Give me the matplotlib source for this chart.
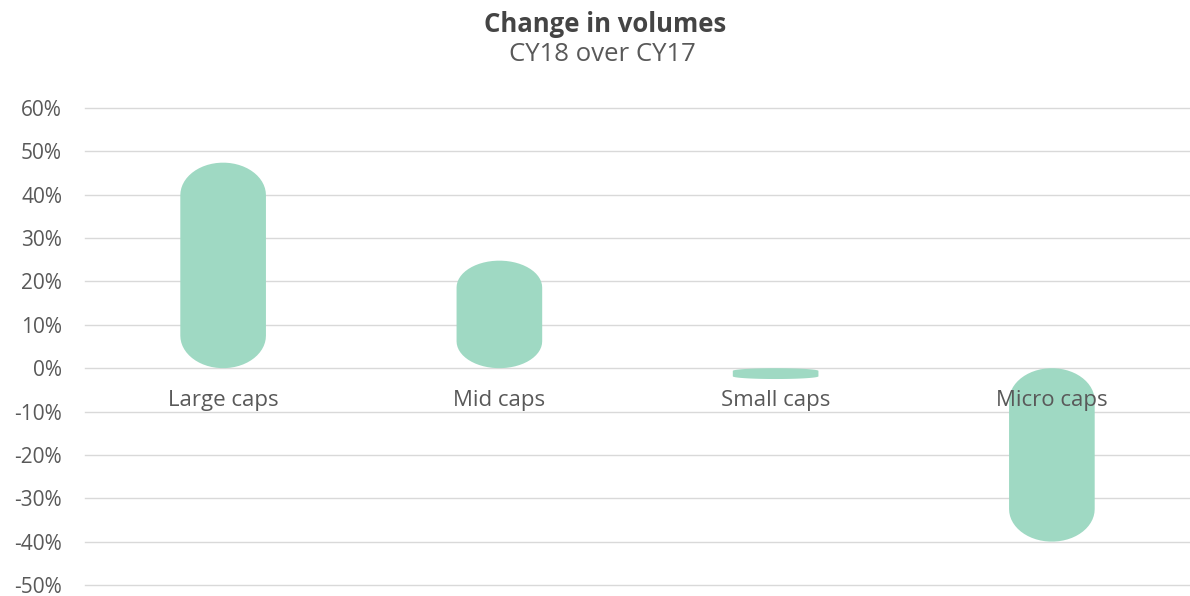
import matplotlib.pyplot as plt
import numpy as np
from matplotlib.patches import Polygon

# Dados
categorias = ['Large caps', 'Mid caps', 'Small caps', 'Micro caps']
variacao = [0.474, 0.248, -0.025, -0.40]

cor_barra = '#9fd9c3'
cor_texto = '#595959'

plt.rcParams['font.family'] = ['Open Sans', 'DejaVu Sans']

fig = plt.figure(figsize=(11.9, 5.96), dpi=100)
ax = fig.add_axes([85 / 1190, 1 - 585 / 596, 1 - 85 / 1190, (585 - 108) / 596])

x = np.arange(len(categorias))
largura = 0.31

# barras arredondadas (pontas elipticas)
def barra_arredondada(xc, v, w, ry=0.075):
    rx = w / 2
    lo, hi = min(0, v), max(0, v)
    r = min(ry, (hi - lo) / 4)
    t = np.linspace(0, np.pi, 30)
    topo = np.column_stack([xc + rx * np.cos(t), hi - r + r * np.sin(t)])
    base = np.column_stack([xc - rx * np.cos(t), lo + r - r * np.sin(t)])
    return Polygon(np.vstack([topo, base]), closed=True, facecolor=cor_barra,
                   edgecolor='none', zorder=2)

for xi, v in zip(x, variacao):
    ax.add_patch(barra_arredondada(xi, v, largura))

ax.set_xlim(-0.5, len(categorias) - 0.5)
ax.set_ylim(-0.5, 0.6)
ax.set_yticks(np.arange(-0.5, 0.61, 0.1))
ax.set_yticklabels([f'{round(t * 100)}%' for t in np.arange(-0.5, 0.61, 0.1)])
ax.set_xticks([])
ax.yaxis.grid(True, color='#d9d9d9', linewidth=1)
for gl in ax.get_ygridlines():
    gl.set_clip_on(False)
ax.set_axisbelow(True)
for s in ax.spines.values():
    s.set_visible(False)
ax.tick_params(axis='y', length=0, pad=16.5, labelsize=15, labelcolor=cor_texto)

# rótulos das categorias logo abaixo do zero
for xi, nome in zip(x, categorias):
    ax.annotate(nome, (xi, 0), xytext=(0, -32), textcoords='offset pixels',
                ha='center', va='center', fontsize=16, color=cor_texto, zorder=3)

fig.text(605 / 1190, 1 - 32 / 596, 'Change in volumes', ha='center', va='baseline',
         fontsize=18.5, fontweight='bold', color='#444444')
fig.text(602 / 1190, 1 - 61 / 596, 'CY18 over CY17', ha='center', va='baseline',
         fontsize=18.5, color=cor_texto)

fig.savefig('out.png', dpi=100)
